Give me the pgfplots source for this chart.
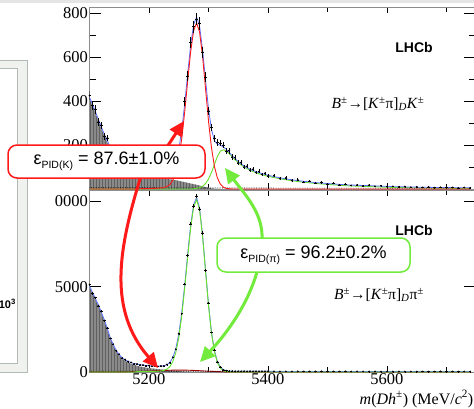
\documentclass[border=0pt]{standalone}
\usepackage{fontspec}
\setmainfont{Liberation Serif}
\newfontfamily\helv{Liberation Sans}
\usepackage{pgfplots}
\pgfplotsset{compat=1.18}
\usepackage{pgfplotstable}
\usetikzlibrary{patterns,arrows.meta}
\definecolor{rootblue}{RGB}{90,110,255}
\definecolor{rootgreen}{RGB}{100,225,40}
\definecolor{rootred}{RGB}{255,25,25}
\definecolor{darkred}{RGB}{165,0,0}
\definecolor{boxgreen}{RGB}{115,235,60}
\definecolor{panelgray}{RGB}{178,186,180}
\definecolor{panelfill}{RGB}{239,242,239}

% x  part  sig  misid  comb  data   (B -> D K)
\pgfplotstableread{
x p s m c d
5100 410 0 0 6 425
5105 380 0 0 6 379
5110 345 0 0 6 362
5115 310 0 0 6 305
5120 275 0 0 6 289
5125 242 0 0 6 240
5130 212 0 0 6 232
5135 185 0 0 6 184
5140 162 0 0 6 176
5145 142 0 0 6 141
5150 125 0 0 6 137
5155 110 0 0 6 109
5160 98 0 0 6 111
5165 88 0 0 6 89
5170 80 0 0 6 92
5175 73 0 0 6 74
5180 68 1 0 6 81
5185 64 1 0 6 66
5190 61 2 0 6 75
5195 58 2 0 6 61
5200 56 2 0 6 70
5205 54 3 0 6 58
5210 52 3 0 6 66
5215 50 4 0 5 55
5220 49 5 0 5 64
5225 47 6 0 5 53
5230 46 11 0 5 68
5235 44 20 0 5 64
5240 42 39 0 5 93
5245 40 75 0 5 114
5250 37 136 0 5 186
5255 34 228 0 5 259
5260 31 350 0 5 398
5265 28 490 0 5 514
5270 25 623 0 5 665
5275 22 719 1 5 738
5280 19 755 3 5 771
5285 16 714 6 5 752
5290 12 605 12 5 622
5295 9 458 25 5 508
5300 6 310 45 5 355
5305 3 188 75 5 279
5310 1 102 112 5 229
5315 0 50 148 5 212
5320 0 22 172 5 208
5325 0 8 178 5 199
5330 0 3 172 5 172
5335 0 1 160 5 174
5340 0 0 146 5 145
5345 0 0 132 5 143
5350 0 0 120 5 119
5355 0 0 109 5 121
5360 0 0 100 5 99
5365 0 0 92 5 104
5370 0 0 85 5 86
5375 0 0 79 5 90
5380 0 0 74 5 75
5385 0 0 69 5 80
5390 0 0 65 5 66
5395 0 0 61 5 71
5400 0 0 58 5 59
5410 0 0 52 4 61
5420 0 0 47 4 47
5430 0 0 42 4 50
5440 0 0 38 4 39
5450 0 0 34 4 42
5460 0 0 31 4 31
5470 0 0 28 4 36
5480 0 0 25 4 27
5490 0 0 23 4 30
5500 0 0 21 4 22
5510 0 0 19 4 26
5520 0 0 17 4 19
5530 0 0 15 4 22
5540 0 0 14 4 16
5550 0 0 13 4 19
5560 0 0 12 4 14
5570 0 0 11 4 17
5580 0 0 10 4 12
5590 0 0 9 4 15
5600 0 0 8 4 11
5610 0 0 7.5 3 12
5620 0 0 7 3 9
5630 0 0 6.5 3 11
5640 0 0 6 3 8
5650 0 0 5.5 3 10
5660 0 0 5 3 7
5670 0 0 4.5 3 9
5680 0 0 4 3 6
5690 0 0 4 3 8
5700 0 0 3.5 3 6
5710 0 0 3 3 7
5720 0 0 3 3 5
5730 0 0 3 3 7
5740 0 0 2.5 3 5
}\tabK

% x  part  sig  misid  comb  data   (B -> D pi)
\pgfplotstableread{
x p s m c d
5100 5000 0 0 50 5120
5105 4620 0 0 50 4610
5110 4250 0 0 50 4360
5115 3880 0 0 50 3880
5120 3450 0 0 50 3550
5125 3000 0 0 50 3010
5130 2500 0 0 50 2590
5135 1950 0 0 50 1970
5140 1550 0 0 50 1630
5145 1220 0 0 50 1250
5150 960 0 5 50 1040
5155 780 0 7 50 820
5160 650 0 10 50 728
5165 560 0 14 50 610
5170 480 0 18 50 561
5175 420 0 23 50 480
5180 365 20 28 50 475
5185 320 22 34 50 415
5190 285 25 40 50 412
5195 255 28 47 50 368
5200 230 32 55 50 379
5205 208 36 62 45 340
5210 188 40 70 45 355
5215 170 49 77 45 330
5220 152 64 85 45 358
5225 135 94 92 45 352
5230 118 162 98 45 437
5235 100 310 103 45 545
5240 82 605 108 45 862
5245 65 1135 111 45 1330
5250 50 2002 113 45 2250
5255 38 3268 112 45 3420
5260 27 4904 110 45 5150
5265 18 6732 105 45 6840
5270 11 8447 100 45 8690
5275 6 9666 93 45 9730
5280 3 10100 85 45 10310
5285 1 9514 76 45 9560
5290 0 7959 66 45 8150
5295 0 5919 57 45 5960
5300 0 3899 47 45 4050
5305 0 2283 38 40 2320
5310 0 1192 30 40 1290
5315 0 548 23 40 595
5320 0 225 17 40 295
5325 0 82 13 40 128
5330 0 26 9 40 82
5335 0 8 6 40 49
5340 0 2 4 40 51
5345 0 0 3 40 39
5350 0 0 2 40 46
5355 0 0 1.5 40 38
5360 0 0 1 40 44
5365 0 0 0.5 40 37
5370 0 0 0 40 43
5375 0 0 0 40 36
5380 0 0 0 40 42
5385 0 0 0 40 38
5390 0 0 0 40 41
5395 0 0 0 40 37
5400 0 0 0 40 43
5410 0 0 0 35 38
5420 0 0 0 35 32
5430 0 0 0 35 37
5440 0 0 0 35 33
5450 0 0 0 35 36
5460 0 0 0 35 31
5470 0 0 0 35 38
5480 0 0 0 35 34
5490 0 0 0 35 37
5500 0 0 0 35 32
5510 0 0 0 35 36
5520 0 0 0 35 33
5530 0 0 0 35 38
5540 0 0 0 35 31
5550 0 0 0 35 35
5560 0 0 0 30 33
5570 0 0 0 30 28
5580 0 0 0 30 32
5590 0 0 0 30 27
5600 0 0 0 30 31
5610 0 0 0 30 29
5620 0 0 0 30 33
5630 0 0 0 30 26
5640 0 0 0 30 31
5650 0 0 0 30 28
5660 0 0 0 30 32
5670 0 0 0 30 27
5680 0 0 0 30 30
5690 0 0 0 30 34
5700 0 0 0 30 28
5710 0 0 0 30 31
5720 0 0 0 30 27
5730 0 0 0 30 32
5740 0 0 0 30 29
}\tabP

\pgfplotsset{
  lhcb/.style={
    scale only axis, width=385.5pt, height=182pt,
    xmin=5100, xmax=5748,
    axis line style={black!45, line width=0.6pt},
    tick style={black, line width=0.6pt},
    tick align=inside, tick pos=both,
    xtick={5200,5400,5600}, minor xtick={5300,5500,5700},
    xtick style={/pgfplots/major tick length=6pt, /pgfplots/minor tick length=5pt},
    ytick style={/pgfplots/major tick length=11pt, /pgfplots/minor tick length=6pt},
    ticklabel style={font=\rmfamily\fontsize{16.5}{18}\selectfont},
    scaled y ticks=false, scaled x ticks=false,
    /pgf/number format/assume math mode=true,
    /pgf/number format/1000 sep={},
    yticklabel={\rmfamily\pgfmathprintnumber[assume math mode=true]{\tick}},
    yticklabel style={inner sep=1.5pt},
    xticklabel style={inner sep=1.5pt},
  },
  datapts/.style={only marks, mark=*, mark size=0.65pt, black,
    error bars/.cd, y dir=both, y explicit, x dir=both, x fixed=2,
    error mark=none, error bar style={line width=0.45pt, black}},
}

\begin{document}
\begin{tikzpicture}
\useasboundingbox (0pt,0pt) rectangle (474pt,408pt);
\fill[white] (0pt,0pt) rectangle (474pt,408pt);
% slide background pieces
\fill[black!10] (0pt,404.5pt) rectangle (474pt,408pt);
\draw[panelgray, line width=0.8pt, fill=panelfill] (-3pt,36pt) rectangle (27pt,348pt);
\draw[panelgray, line width=0.8pt, fill=white] (-3pt,45pt) rectangle (17pt,340pt);
\node[anchor=east, inner sep=0, font=\helv\bfseries\fontsize{11}{11}\selectfont] at (16pt,104pt) {10\textsuperscript{3}};

% ---------- top panel: B -> D K ----------
\begin{axis}[lhcb, at={(89.5pt,219pt)}, anchor=south west, ymin=0, ymax=827,
  ytick={200,400,600,800}, minor ytick={100,300,500,700},
  xticklabels={}]
\addplot[draw=none, fill=black!46] table[x=x, y=p] {\tabK} \closedcycle;
\addplot[draw=none, pattern=vertical lines, pattern color=black!62] table[x=x, y=p] {\tabK} \closedcycle;
\addplot[black, densely dotted, line width=0.7pt] table[x=x, y=c] {\tabK};
\addplot[rootgreen, line width=0.9pt] table[x=x, y=m] {\tabK};
\addplot[rootblue, line width=0.8pt] table[x=x, y expr=\thisrow{p}+\thisrow{s}+\thisrow{m}+\thisrow{c}] {\tabK};
\addplot[rootred, line width=0.9pt] table[x=x, y=s] {\tabK};
\addplot[datapts] table[x=x, y=d, y error expr=sqrt(\thisrow{d})] {\tabK};
\end{axis}

% ---------- bottom panel: B -> D pi ----------
\begin{axis}[lhcb, at={(89.5pt,36pt)}, anchor=south west, ymin=0, ymax=10674,
  ytick={0,5000,10000},
  xticklabel={\rmfamily\pgfmathprintnumber[assume math mode=true]{\tick}}]
\addplot[draw=none, fill=black!46] table[x=x, y=p] {\tabP} \closedcycle;
\addplot[draw=none, pattern=vertical lines, pattern color=black!62] table[x=x, y=p] {\tabP} \closedcycle;
\addplot[darkred, line width=0.9pt] table[x=x, y=m] {\tabP};
\addplot[black, densely dotted, line width=0.7pt] table[x=x, y=c] {\tabP};
\addplot[rootblue, line width=0.8pt] table[x=x, y expr=\thisrow{p}+\thisrow{s}+\thisrow{m}+\thisrow{c}] {\tabP};
\addplot[rootgreen, line width=0.9pt] table[x=x, y=s] {\tabP};
\addplot[datapts] table[x=x, y=d, y error expr=sqrt(\thisrow{d})] {\tabP};
\end{axis}

% texts
\node[font=\helv\bfseries\fontsize{14}{14}\selectfont, inner sep=0] at (414pt,361pt) {LHCb};
\node[font=\helv\bfseries\fontsize{14}{14}\selectfont, inner sep=0] at (414pt,178pt) {LHCb};
\node[font=\fontsize{15.5}{16}\selectfont, inner sep=0] at (378pt,304pt)
  {\textit{B}\textsuperscript{±}→[\textit{K}\textsuperscript{±}π]\textsubscript{\textit{D}}\textit{K}\textsuperscript{±}};
\node[font=\fontsize{15.5}{16}\selectfont, inner sep=0] at (379pt,113pt)
  {\textit{B}\textsuperscript{±}→[\textit{K}\textsuperscript{±}π]\textsubscript{\textit{D}}π\textsuperscript{±}};
\node[anchor=base east, font=\fontsize{16}{16}\selectfont, inner sep=0] at (473.5pt,4pt)
  {\textit{m}(\textit{Dh}\textsuperscript{±}) (MeV/\textit{c}\textsuperscript{2})};

% hide the leading "1" of 10000 as in the reference
\fill[white] (38pt,198pt) rectangle (54.5pt,216pt);

% arrows
\draw[rootred, line width=3pt, -{Triangle[length=15pt,width=14pt]}] (165pt,258pt) -- (184pt,287pt);
\draw[rootred, line width=3pt, -{Triangle[length=15pt,width=14pt]}] (141pt,232pt) .. controls (118pt,158pt) and (108pt,98pt) .. (158pt,40pt);
\draw[boxgreen, line width=3pt, -{Triangle[length=15pt,width=14pt]}] (262pt,166pt) .. controls (264pt,194pt) and (246pt,212pt) .. (225pt,240pt);
\draw[boxgreen, line width=3pt, -{Triangle[length=15pt,width=14pt]}] (258pt,140pt) .. controls (250pt,108pt) and (230pt,78pt) .. (200pt,46pt);

% boxes
\node[draw=rootred, line width=1.5pt, rounded corners=9pt, fill=white,
  minimum width=197pt, minimum height=33pt, inner sep=0,
  font=\helv\fontsize{18}{18}\selectfont] at (106.5pt,246.5pt)
  {ε\raisebox{-4pt}{\fontsize{10.5}{10}\selectfont PID(K)} = 87.6±1.0\%};
\node[draw=boxgreen, line width=1.5pt, rounded corners=9pt, fill=white,
  minimum width=193pt, minimum height=34pt, inner sep=0,
  font=\helv\fontsize{18}{18}\selectfont] at (313.5pt,153pt)
  {ε\raisebox{-4pt}{\fontsize{10.5}{10}\selectfont PID(π)} = 96.2±0.2\%};
\end{tikzpicture}
\end{document}
